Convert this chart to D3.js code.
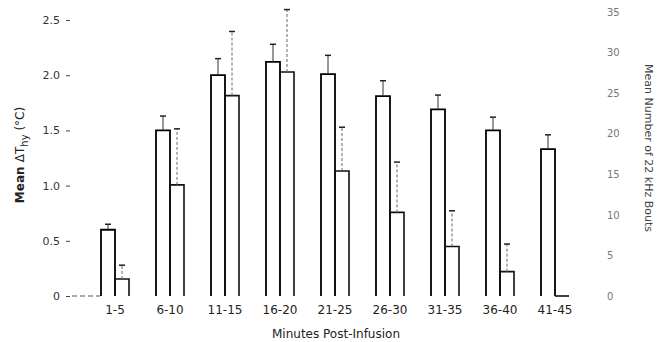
<!DOCTYPE html>
<html>
<head>
<meta charset="utf-8">
<script src="https://cdn.jsdelivr.net/npm/d3@7"></script>
<style>
  body { margin: 0; background: #fff; }
  svg { display: block; }
  text { font-family: "DejaVu Sans", sans-serif; fill: #222; }
</style>
</head>
<body>
<div id="chart"></div>
<script>
// minutes post-infusion bins
const groups = ['1-5', '6-10', '11-15', '16-20', '21-25', '26-30', '31-35', '36-40', '41-45'];
// mean ΔT hy (°C) and its error
const tempMean = [0.60, 1.50, 2.00, 2.12, 2.01, 1.81, 1.69, 1.50, 1.33];
const tempErr = [0.05, 0.13, 0.15, 0.16, 0.17, 0.14, 0.13, 0.12, 0.13];
// mean number of 22 kHz bouts and its error
const boutMean = [2.1, 13.7, 24.7, 27.6, 15.4, 10.3, 6.1, 3.0, 0];
const boutErr = [1.7, 6.9, 7.9, 7.7, 5.4, 6.2, 4.4, 3.4, 0];
const leftTicks = [0, 0.5, 1.0, 1.5, 2.0, 2.5];
const rightTicks = [0, 5, 10, 15, 20, 25, 30, 35];

const W = 658, H = 342;
const base = 296;
const barW = 14;

const svg = d3.select('#chart').append('svg')
  .attr('width', W)
  .attr('height', H);

const x = d3.scaleBand().domain(groups).range([87.5, 582.5]);
const yL = d3.scaleLinear().domain([0, 2.5]).range([base, 20]);
const yR = d3.scaleLinear().domain([0, 35]).range([base, 12]);

const cx = g => x(g) + x.bandwidth() / 2;

// open-bottom bar outline
function barPath(x0, yTop) {
  return 'M' + x0 + ',' + base + 'V' + yTop + 'H' + (x0 + barW) + 'V' + base;
}

// left axis
const axL = svg.append('g')
  .attr('transform', 'translate(70,0)')
  .call(d3.axisLeft(yL).tickValues(leftTicks).tickSize(4).tickPadding(6)
    .tickFormat(d => d === 0 ? '0' : d3.format('.1f')(d)));
axL.select('.domain').remove();
axL.selectAll('line').style('stroke', '#444');
axL.selectAll('text').style('font-size', '11px').style('fill', '#333');

// dashed stub of baseline
svg.append('line')
  .attr('x1', 72).attr('x2', 100)
  .attr('y1', base).attr('y2', base)
  .style('stroke', '#555')
  .style('stroke-dasharray', '5,3');

// right axis
const axR = svg.append('g')
  .attr('transform', 'translate(603,0)')
  .call(d3.axisRight(yR).tickValues(rightTicks).tickSize(0).tickPadding(4));
axR.select('.domain').remove();
axR.selectAll('text').style('font-size', '10px').style('fill', '#777');

// temperature bars
svg.selectAll('.tbar').data(groups).enter()
  .append('path')
  .attr('class', 'tbar')
  .attr('d', (g, i) => barPath(cx(g) - barW, yL(tempMean[i])))
  .style('fill', 'none')
  .style('stroke', '#000')
  .style('stroke-width', 1.8);

// bout bars
svg.selectAll('.bbar').data(groups).enter()
  .append('path')
  .attr('class', 'bbar')
  .attr('d', (g, i) => boutMean[i] > 0
    ? barPath(cx(g), yR(boutMean[i]))
    : 'M' + cx(g) + ',' + base + 'H' + (cx(g) + barW))
  .style('fill', 'none')
  .style('stroke', '#111')
  .style('stroke-width', 1.6);

// error bars
function errBars(cls, means, errs, scale, dx, dashed) {
  const g = svg.selectAll('.' + cls).data(groups.filter((d, i) => errs[i] > 0)).enter()
    .append('g').attr('class', cls);
  g.append('line')
    .attr('x1', d => cx(d) + dx).attr('x2', d => cx(d) + dx)
    .attr('y1', d => scale(means[groups.indexOf(d)]))
    .attr('y2', d => scale(means[groups.indexOf(d)] + errs[groups.indexOf(d)]))
    .style('stroke', dashed ? '#666' : '#333')
    .style('stroke-width', 1)
    .style('stroke-dasharray', dashed ? '3,2' : null);
  g.append('line')
    .attr('x1', d => cx(d) + dx - 3).attr('x2', d => cx(d) + dx + 3)
    .attr('y1', d => scale(means[groups.indexOf(d)] + errs[groups.indexOf(d)]))
    .attr('y2', d => scale(means[groups.indexOf(d)] + errs[groups.indexOf(d)]))
    .style('stroke', '#222')
    .style('stroke-width', 1.5);
}
errBars('terr', tempMean, tempErr, yL, -barW / 2, false);
errBars('berr', boutMean, boutErr, yR, barW / 2, true);

// category labels
svg.selectAll('.cat').data(groups).enter()
  .append('text')
  .attr('class', 'cat')
  .attr('x', g => cx(g))
  .attr('y', 314)
  .attr('text-anchor', 'middle')
  .style('font-size', '12px')
  .text(g => g);

// axis titles
svg.append('text')
  .attr('x', 336).attr('y', 338)
  .attr('text-anchor', 'middle')
  .style('font-size', '12px')
  .text('Minutes Post-Infusion');

const lt = svg.append('text')
  .attr('transform', 'translate(24,155) rotate(-90)')
  .attr('text-anchor', 'middle')
  .style('font-size', '12px');
lt.append('tspan').style('font-weight', 'bold').text('Mean ');
lt.append('tspan').text(' ΔT');
lt.append('tspan').attr('dy', 4).style('font-size', '10px').text('hy');
lt.append('tspan').attr('dy', -4).text(' (°C)');

svg.append('text')
  .attr('transform', 'translate(645,148) rotate(90)')
  .attr('text-anchor', 'middle')
  .style('font-size', '11px')
  .style('fill', '#444')
  .text('Mean Number of 22 kHz Bouts');
</script>
</body>
</html>
